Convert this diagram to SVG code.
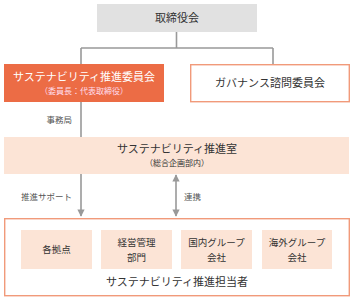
<svg xmlns="http://www.w3.org/2000/svg" width="353" height="299" viewBox="0 0 353 299">
<defs>
<style>
text{font-family:"Noto Sans CJK JP","Noto Sans",sans-serif;fill:#333;text-anchor:middle}
.t11{font-size:11px}
.t9{font-size:9.5px}
.t8{font-size:8px}
.lbl{font-size:8.5px;fill:#555}
.pale{fill:#fce4d6}
.line{stroke:#999;stroke-width:1.6;fill:none}
.wb{fill:#fff;stroke:#f19a7a;stroke-width:1.4}
</style>
<marker id="ah" viewBox="0 0 10 10" refX="9" refY="5" markerWidth="5" markerHeight="4.5" orient="auto-start-reverse" markerUnits="strokeWidth">
<path d="M0,0L10,5L0,10z" fill="#999"/>
</marker>
</defs>
<g id="connectors">
<path class="line" d="M176.5,32V48M81,48H273M81,48V64M273,48V64"/>
<path class="line" d="M81,102V137"/>
<path class="line" d="M81,174V216" marker-end="url(#ah)"/>
<path class="line" d="M176,175V216" marker-start="url(#ah)" marker-end="url(#ah)"/>
<text class="lbl" x="72" y="123" style="text-anchor:end">事務局</text>
<text class="lbl" x="72" y="200" style="text-anchor:end">推進サポート</text>
<text class="lbl" x="184" y="200" style="text-anchor:start">連携</text>
</g>
<g id="board">
<rect x="97" y="4" width="160" height="28" fill="#e1e1e1"/>
<text class="t11" x="177" y="22">取締役会</text>
</g>
<g id="committee">
<rect x="4" y="64" width="160" height="38" fill="#ec6c45"/>
<text class="t11" x="84" y="81" style="fill:#fff">サステナビリティ推進委員会</text>
<text class="t8" x="84" y="94" style="fill:#fde">（委員長：代表取締役）</text>
</g>
<g id="governance">
<rect class="wb" x="190.7" y="64.7" width="158.6" height="37"/>
<text class="t11" x="270" y="87">ガバナンス諮問委員会</text>
</g>
<g id="office">
<rect class="pale" x="4" y="137" width="345" height="37"/>
<text class="t11" x="177" y="153">サステナビリティ推進室</text>
<text class="t8" x="177" y="166">（総合企画部内）</text>
</g>
<g id="members">
<rect class="wb" x="4.7" y="218.7" width="344.6" height="77"/>
<text class="t11" x="177" y="286">サステナビリティ推進担当者</text>
</g>
<g id="sites">
<rect class="pale" x="21" y="230" width="71" height="39"/>
<text class="t9" x="56.5" y="253">各拠点</text>
</g>
<g id="mgmt">
<rect class="pale" x="101" y="230" width="71" height="39"/>
<text class="t9" x="136.5" y="246">経営管理</text>
<text class="t9" x="136.5" y="261">部門</text>
</g>
<g id="domestic">
<rect class="pale" x="181" y="230" width="71" height="39"/>
<text class="t9" x="216.5" y="246">国内グループ</text>
<text class="t9" x="216.5" y="261">会社</text>
</g>
<g id="overseas">
<rect class="pale" x="262" y="230" width="70" height="39"/>
<text class="t9" x="297" y="246">海外グループ</text>
<text class="t9" x="297" y="261">会社</text>
</g>
</svg>
